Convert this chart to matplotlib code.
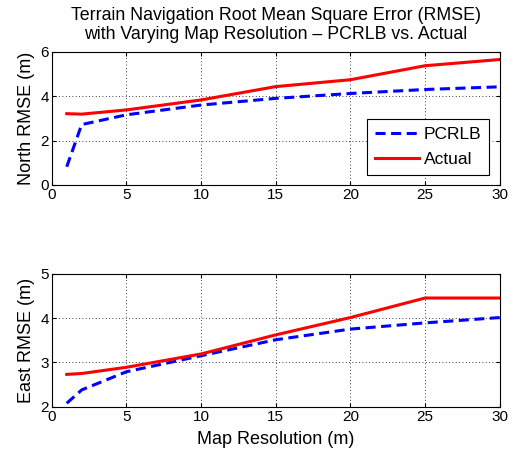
import matplotlib
matplotlib.use('Agg')
import matplotlib.pyplot as plt

# Daten
aufloesung = [1, 2, 5, 10, 15, 20, 25, 30]
nord_pcrlb = [0.82, 2.72, 3.16, 3.6, 3.9, 4.12, 4.3, 4.42]
nord_actual = [3.21, 3.19, 3.38, 3.83, 4.43, 4.74, 5.37, 5.65]
ost_pcrlb = [2.08, 2.38, 2.79, 3.15, 3.51, 3.75, 3.89, 4.01]
ost_actual = [2.73, 2.75, 2.89, 3.19, 3.62, 4.01, 4.45, 4.45]

plt.rcParams['font.family'] = ['Liberation Sans', 'DejaVu Sans']
plt.rcParams['font.size'] = 11

fig = plt.figure(figsize=(5.13, 4.5), dpi=100)
ax1 = fig.add_axes([0.101, 0.589, 0.873, 0.296])
ax2 = fig.add_axes([0.101, 0.096, 0.873, 0.296])

for ax in (ax1, ax2):
    ax.set_xlim(0, 30)
    ax.set_xticks([0, 5, 10, 15, 20, 25, 30])
    ax.grid(True, color='black', linestyle=(0, (1, 3)), linewidth=0.6)
    ax.tick_params(direction='in', top=True, right=True, length=3, labelsize=11, pad=2)
    for s in ax.spines.values():
        s.set_linewidth(0.8)

# Nord
ax1.plot(aufloesung, nord_pcrlb, color='blue', linestyle='--', linewidth=2.2, dashes=(3.3, 1.8), label='PCRLB')
ax1.plot(aufloesung, nord_actual, color='red', linewidth=2.2, label='Actual')
ax1.set_ylim(0, 6)
ax1.set_yticks([0, 2, 4, 6])
ax1.set_ylabel('North RMSE (m)', fontsize=13, labelpad=4)
ax1.set_title('Terrain Navigation Root Mean Square Error (RMSE)\nwith Varying Map Resolution \u2013 PCRLB vs. Actual',
              fontsize=12.8, pad=9, linespacing=1.2)
leg = ax1.legend(loc='lower right', fancybox=False, edgecolor='black', framealpha=1,
                 handlelength=2.5, handletextpad=0.3, borderpad=0.45, labelspacing=0.55,
                 borderaxespad=0.6, fontsize=12.5)
leg.get_frame().set_linewidth(0.8)

# Ost
ax2.plot(aufloesung, ost_pcrlb, color='blue', linestyle='--', linewidth=2.2, dashes=(3.3, 1.8))
ax2.plot(aufloesung, ost_actual, color='red', linewidth=2.2)
ax2.set_ylim(2, 5)
ax2.set_yticks([2, 3, 4, 5])
ax2.set_ylabel('East RMSE (m)', fontsize=13, labelpad=4)
ax2.set_xlabel('Map Resolution (m)', fontsize=13, labelpad=5)

fig.savefig('out.png', dpi=100)
